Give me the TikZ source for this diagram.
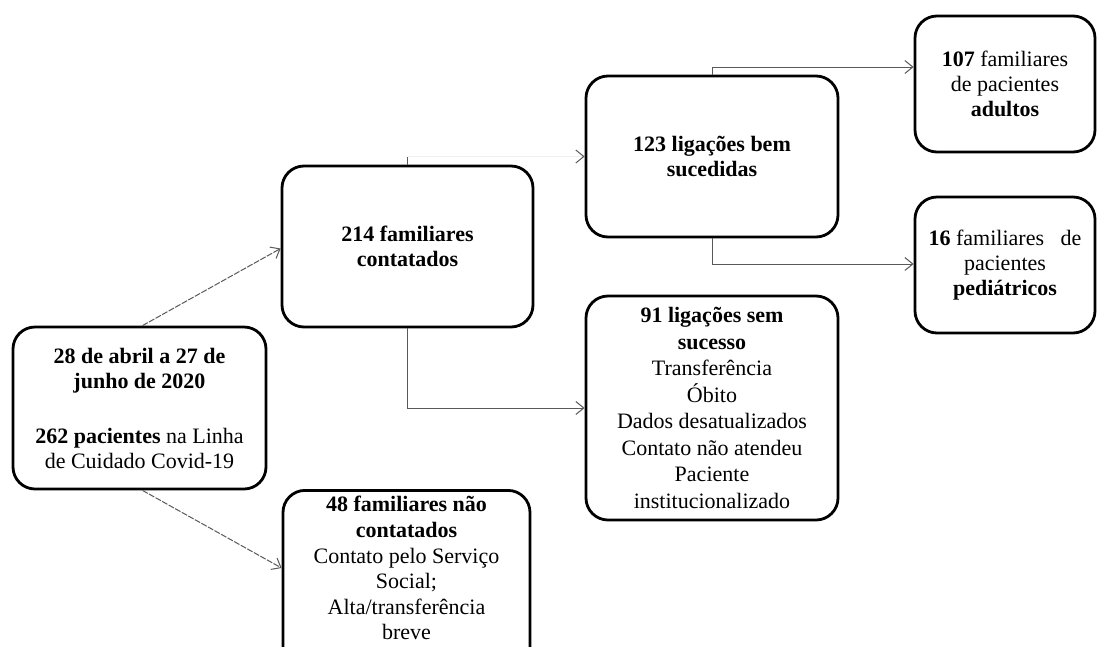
\documentclass[tikz,border=0pt]{standalone}
\usepackage{fontspec}
\setmainfont{Liberation Serif}
\usetikzlibrary{arrows.meta,calc}
\begin{document}
\begin{tikzpicture}[x=1pt,y=-1pt,
  box/.style={draw=black, line width=2.8pt, rounded corners=22pt, align=center, inner sep=4pt,
    font=\fontsize{22}{25}\selectfont},
  tallbox/.style={box, font=\fontsize{22}{26.5}\selectfont},
  conn/.style={draw=black!65, line width=1pt, -{Straight Barb[length=8pt,width=13pt,line width=1pt]}},
  dconn/.style={conn, dash pattern=on 6pt off 1.5pt}]
\useasboundingbox (0,0) rectangle (1098,646);
\fill[white] (0,0) rectangle (1098,646);
\clip (0,0) rectangle (1098,646);

\node[box, minimum width=253pt, minimum height=162pt] (A) at (139.5,408)
  {\textbf{28 de abril a 27 de}\\ \textbf{junho de 2020}\\[30pt] \textbf{262 pacientes} na Linha\\ de Cuidado Covid-19};
\node[box, minimum width=251pt, minimum height=161pt] (B) at (407.5,246.5)
  {\textbf{214 familiares}\\ \textbf{contatados}};
\node[box, minimum width=252pt, minimum height=161pt] (C) at (712,156.5)
  {\textbf{123 ligações bem}\\ \textbf{sucedidas}};
\node[box, minimum width=180pt, minimum height=136pt] (D) at (1005,84)
  {\textbf{107} familiares\\ de pacientes\\ \textbf{adultos}};
\node[box, minimum width=180pt, minimum height=136pt] (E) at (1005,265)
  {\textbf{16} familiares\hspace{0.5em} de\\ pacientes\\ \textbf{pediátricos}};
\node[tallbox, minimum width=252pt, minimum height=224pt] (F) at (712,408)
  {\textbf{91 ligações sem}\\ \textbf{sucesso}\\ Transferência\\ Óbito\\ Dados desatualizados\\ Contato não atendeu\\ Paciente\\ institucionalizado};
\node[box, font=\fontsize{22}{25.6}\selectfont, anchor=north, inner ysep=6pt, minimum width=247pt] (G) at (406.5,489)
  {\textbf{48 familiares não}\\ \textbf{contatados}\\ Contato pelo Serviço\\ Social;\\ Alta/transferência\\ breve\\[-8pt]\strut};

\draw[dconn] ($(A.north)+(3,0)$) -- ($(B.west)+(0,2)$);
\draw[dconn] ($(A.south)+(3,0)$) -- (G.west |- 0,568);

\coordinate (bc) at (B.north |- C.west);
\draw[draw=black!65, line width=1pt] (B.north) -- (bc);
\draw[draw=black!6, line width=1pt, -{Straight Barb[length=8pt,width=13pt,line width=1pt,color=black!65]}] (bc) -- (C.west);
\draw[conn] (B.south) |- (F.west);
\draw[conn] (C.north) |- ($(D.west)+(0,-17)$);
\draw[conn] (C.south) |- ($(E.west)+(0,-1)$);
\end{tikzpicture}
\end{document}
